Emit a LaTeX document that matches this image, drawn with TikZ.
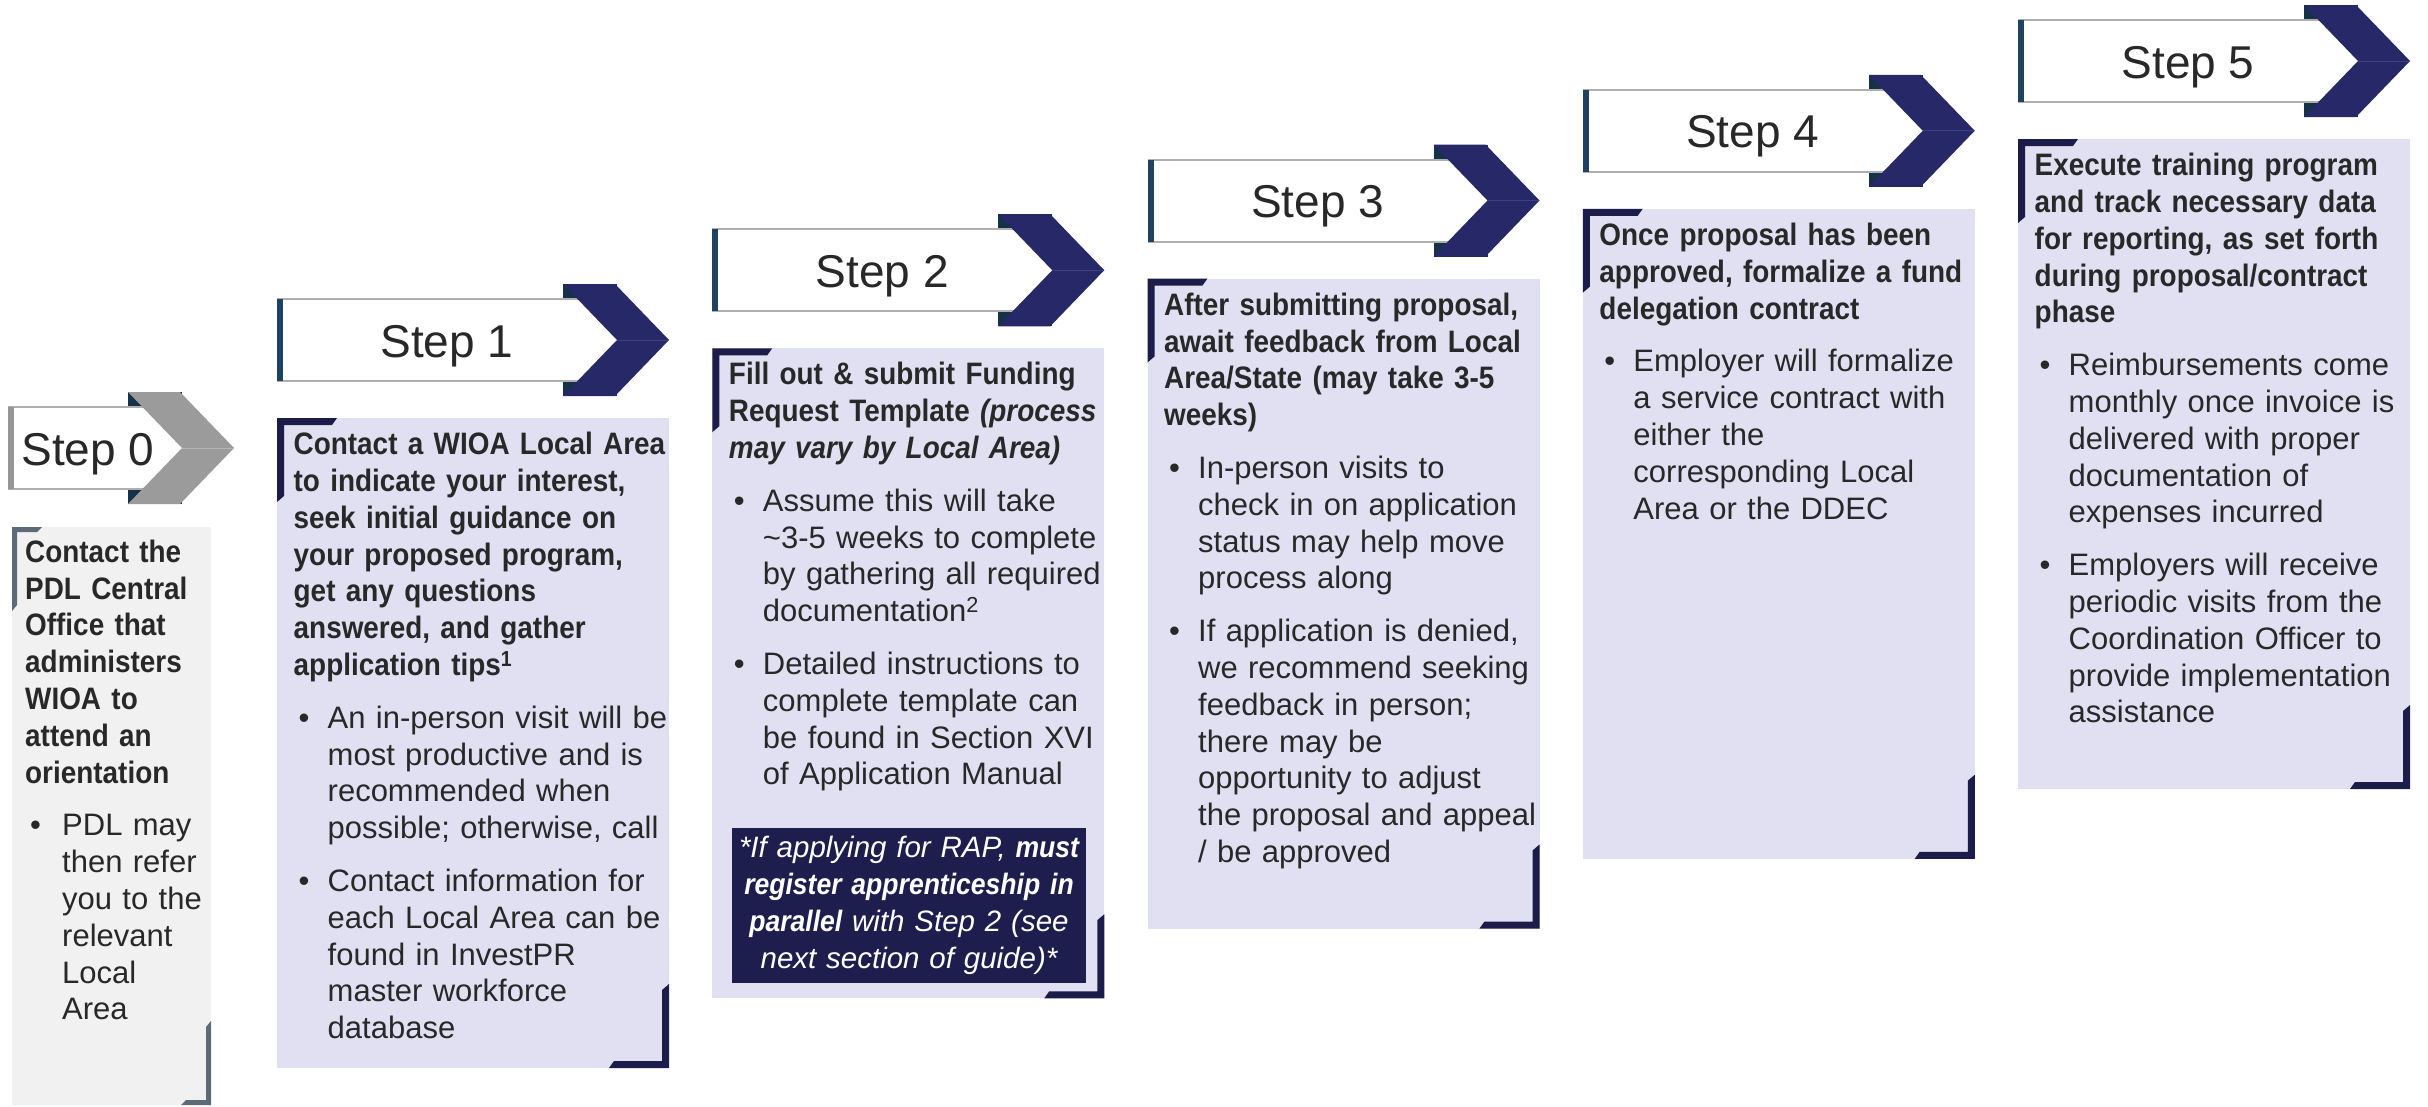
\documentclass[tikz,border=0pt]{standalone}
\usepackage{fontspec}
\setmainfont{Liberation Sans}[BoldFeatures={FakeStretch=0.9},BoldItalicFeatures={FakeStretch=0.9}]

\definecolor{ink}{RGB}{40,40,40}
\definecolor{navy}{RGB}{39,40,103}
\definecolor{navyseam}{RGB}{62,64,130}
\definecolor{fold}{RGB}{22,50,72}
\definecolor{barblue}{RGB}{31,66,96}
\definecolor{edgegray}{RGB}{175,175,175}
\definecolor{lavender}{RGB}{224,224,242}
\definecolor{bracketnavy}{RGB}{28,28,74}
\definecolor{paper}{RGB}{241,241,241}
\definecolor{slate}{RGB}{93,106,120}
\definecolor{chevgray}{RGB}{155,155,155}
\definecolor{grayseam}{RGB}{180,180,180}
\definecolor{bargray}{RGB}{150,150,150}
\definecolor{rapfill}{RGB}{30,30,78}

% header band: white box with a chevron at its right end
% #1 name, #2 left, #3 top, #4 chevron offset, #5 chevron colour,
% #6 seam colour, #7 left bar colour, #8 label x offset, #9 label
\newcommand\stephead[9]{%
  \fill[fold] ({#2+#4},{#3-15}) rectangle ({#2+#4+54},{#3+97});
  \fill[white] (#2,#3) rectangle ({#2+#4+54},{#3+82});
  \draw[hdredge] (#2,#3) -- ({#2+#4+54},#3) (#2,{#3+82}) -- ({#2+#4+54},{#3+82});
  \fill[#5] ({#2+#4},{#3-15}) -- ({#2+#4+52},{#3-15}) -- ({#2+#4+106},{#3+41})
    -- ({#2+#4+52},{#3+97}) -- ({#2+#4},{#3+97}) -- ({#2+#4+54},{#3+41}) -- cycle;
  \draw[#6,line width=1pt] ({#2+#4+54},{#3+41}) -- ({#2+#4+105},{#3+41});
  \fill[#7] (#2,#3) rectangle ({#2+6},{#3+82});
  \node[steplabel] (#1) at ({#2+#8},{#3+58}) {#9};
}

% card with corner brackets
% #1 left, #2 top, #3 width, #4 height, #5 fill, #6 bracket colour,
% #7 horizontal arm, #8 thickness
\newcommand\stepcard[8]{%
  \fill[#5] (#1,#2) rectangle ({#1+#3},{#2+#4});
  \fill[#6] (#1,#2) -- ({#1+#7},#2) -- ({#1+#7-5},{#2+#8}) -- ({#1+#8},{#2+#8})
    -- ({#1+#8},{#2+78}) -- (#1,{#2+84}) -- cycle;
  \fill[#6] ({#1+#3},{#2+#4}) -- ({#1+#3-#7},{#2+#4}) -- ({#1+#3-#7+5},{#2+#4-#8})
    -- ({#1+#3-#8},{#2+#4-#8}) -- ({#1+#3-#8},{#2+#4-78}) -- ({#1+#3},{#2+#4-84}) -- cycle;
}

% bullet paragraph with hanging indent, closed inside the same group
\newlength\bulletind
\setlength\bulletind{34pt}
\newcommand\bpt[1]{\par\vspace{16pt}\hangindent=\bulletind\hangafter=1\noindent
  \hbox to \bulletind{\hskip5pt\textbullet\hfil}#1\par}
\newcommand\firstline{\noindent\rule{0pt}{30pt}}

\begin{document}
\begin{tikzpicture}[x=1pt,y=-1pt,
  steplabel/.style={anchor=base, inner sep=0pt, font=\fontsize{46}{50}\selectfont, text=ink},
  cardtext/.style={anchor=north west, inner sep=0pt, text width=420pt, align=left,
    font=\fontsize{31}{36.8}\selectfont, text=ink},
  hdredge/.style={draw=edgegray, line width=2pt},
  rapbox/.style={fill=rapfill, text=white, inner sep=2pt, text width=350pt,
    minimum height=155pt, align=center, font=\fontsize{29.5}{36.8}\selectfont\itshape},
]
\useasboundingbox (0,0) rectangle (2428,1106);
\fill[white] (0,0) rectangle (2428,1106);

% ---------- Step 0 ----------
\stepcard{12}{527}{199}{578}{paper}{slate}{30}{5}
\stephead{h0}{8}{407}{120}{chevgray}{grayseam}{bargray}{80}{Step 0}
\node[cardtext] (t0) at (25,532) {\setlength\bulletind{37pt}\firstline
  \textbf{Contact the\newline PDL Central\newline Office that\newline administers\newline WIOA to\newline attend an\newline orientation}%
  \bpt{PDL may\newline then refer\newline you to the\newline relevant\newline Local\newline Area}};

% ---------- Step 1 ----------
\stepcard{277}{418}{392}{650}{lavender}{bracketnavy}{60}{7}
\stephead{h1}{277}{299}{286}{navy}{navyseam}{barblue}{170}{Step 1}
\node[cardtext] (t1) at (293.5,424.5) {\firstline
  \textbf{Contact a WIOA Local Area\newline to indicate your interest,\newline seek initial guidance on\newline your proposed program,\newline get any questions\newline answered, and gather\newline application tips\textsuperscript{1}}%
  \bpt{An in-person visit will be\newline most productive and is\newline recommended when\newline possible; otherwise, call}%
  \bpt{Contact information for\newline each Local Area can be\newline found in InvestPR\newline master workforce\newline database}};

% ---------- Step 2 ----------
\stepcard{712.25}{348.25}{392}{650}{lavender}{bracketnavy}{60}{7}
\stephead{h2}{712.25}{229.25}{286}{navy}{navyseam}{barblue}{170}{Step 2}
\node[cardtext] (t2) at (728.75,354.75) {\firstline
  \textbf{Fill out \& submit Funding\newline Request Template \textit{(process\newline may vary by Local Area)}}%
  \bpt{Assume this will take\newline \textasciitilde3-5 weeks to complete\newline by gathering all required\newline documentation\textsuperscript{2}}%
  \bpt{Detailed instructions to\newline complete template can\newline be found in Section XVI\newline of Application Manual}};
\node[rapbox] (rap) at (909,905.5) {*If applying for RAP, \textbf{must}\\
  \textbf{register apprenticeship in}\\ \textbf{parallel} with Step 2 (see\\ next section of guide)*};

% ---------- Step 3 ----------
\stepcard{1147.5}{278.5}{392}{650}{lavender}{bracketnavy}{60}{7}
\stephead{h3}{1147.5}{159.5}{286}{navy}{navyseam}{barblue}{170}{Step 3}
\node[cardtext] (t3) at (1164,285) {\firstline
  \textbf{After submitting proposal,\newline await feedback from Local\newline Area/State (may take 3-5\newline weeks)}%
  \bpt{In-person visits to\newline check in on application\newline status may help move\newline process along}%
  \bpt{If application is denied,\newline we recommend seeking\newline feedback in person;\newline there may be\newline opportunity to adjust\newline the proposal and appeal\newline / be approved}};

% ---------- Step 4 ----------
\stepcard{1582.75}{208.75}{392}{650}{lavender}{bracketnavy}{60}{7}
\stephead{h4}{1582.75}{89.75}{286}{navy}{navyseam}{barblue}{170}{Step 4}
\node[cardtext] (t4) at (1599.25,215.25) {\firstline
  \textbf{Once proposal has been\newline approved, formalize a fund\newline delegation contract}%
  \bpt{Employer will formalize\newline a service contract with\newline either the\newline corresponding Local\newline Area or the DDEC}};

% ---------- Step 5 ----------
\stepcard{2018}{139}{392}{650}{lavender}{bracketnavy}{60}{7}
\stephead{h5}{2018}{20}{286}{navy}{navyseam}{barblue}{170}{Step 5}
\node[cardtext] (t5) at (2034.5,145.5) {\firstline
  \textbf{Execute training program\newline and track necessary data\newline for reporting, as set forth\newline during proposal/contract\newline phase}%
  \bpt{Reimbursements come\newline monthly once invoice is\newline delivered with proper\newline documentation of\newline expenses incurred}%
  \bpt{Employers will receive\newline periodic visits from the\newline Coordination Officer to\newline provide implementation\newline assistance}};
\end{tikzpicture}
\end{document}
